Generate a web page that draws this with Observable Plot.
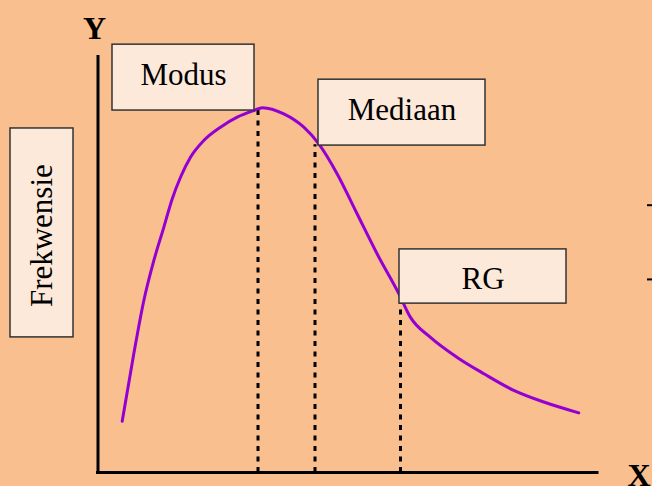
<!DOCTYPE html>
<html>
<head>
<meta charset="utf-8">
<script src="https://cdn.jsdelivr.net/npm/d3@7"></script>
<script src="https://cdn.jsdelivr.net/npm/@observablehq/plot@0.6"></script>
<style>
  html, body { margin: 0; padding: 0; background: #F9BF8F; }
  #chart svg { display: block; }
</style>
</head>
<body>
<div id="chart"></div>
<script>
// Frequency curve (skewed distribution)
const curveX = [4.84, 7.16, 9.16, 11.16, 13.16, 14.84, 16.5, 18.5, 21.16, 24.5, 27.84, 31.16, 32.9, 37.16, 41.16, 44.16, 47.84, 51.84, 55.84, 60.16, 62.5, 66.5, 71.84, 77.16, 83.16, 89.16, 96.16];
const curveY = [12.3, 28.5, 41.2, 50.8, 58.8, 65.6, 70.8, 75.6, 79.6, 82.8, 85.2, 86.8, 87.5, 86.0, 82.8, 78.8, 71.6, 62.0, 52.4, 42.9, 37.2, 32.4, 27.6, 23.7, 19.7, 16.9, 14.3];

// Statistics marked on the curve
const statNames = ["Modus", "Mediaan", "RG"];
const statX = [32.0, 43.4, 60.5];
const statY = [87.3, 78.6, 40.5];

// Label boxes (data units)
const boxX1 = [2.9, 44.1, 60.3, -17.5];
const boxX2 = [31.3, 77.5, 93.7, -4.9];
const boxY1 = [86.8, 78.4, 40.5, 32.4];
const boxY2 = [102.6, 94.2, 53.5, 82.5];
const boxText = ["Modus", "Mediaan", "RG", "Frekwensie"];
const boxTextY = [95.2, 86.8, 46.3, 56.8];
const boxRotate = [0, 0, 0, -90];

// Axis letters
const axisNames = ["Y", "X"];
const axisNameX = [-0.7, 105.9];
const axisNameY = [106.5, -0.7];

// Stray tick marks at the right edge
const edgeTickY = [64.1, 46.3];

const curve = curveX.map((x, i) => ({x, y: curveY[i]}));
const stats = statNames.map((name, i) => ({name, x: statX[i], y: statY[i]}));
const boxes = boxText.map((t, i) => ({
  text: t, x1: boxX1[i], x2: boxX2[i], y1: boxY1[i], y2: boxY2[i],
  cx: (boxX1[i] + boxX2[i]) / 2, cy: boxTextY[i], rotate: boxRotate[i]
}));
const axisLabels = axisNames.map((t, i) => ({t, x: axisNameX[i], y: axisNameY[i]}));

const serif = "'Liberation Serif', serif";

const chart = Plot.plot({
  width: 652,
  height: 486,
  margin: 0,
  x: {domain: [0, 100], range: [97.5, 597.5], axis: null},
  y: {domain: [0, 100], range: [472, 55], axis: null},
  style: {background: "#F9BF8F", overflow: "visible"},
  marks: [
    // dotted verticals
    Plot.ruleX(stats, {x: "x", y1: 0, y2: "y", stroke: "black", strokeWidth: 3, strokeDasharray: "5,5.5"}),
    // axes
    Plot.ruleX([0], {y1: 0, y2: 100, stroke: "black", strokeWidth: 3}),
    Plot.ruleY([0], {x1: -0.3, x2: 100.2, stroke: "black", strokeWidth: 3}),
    // curve
    Plot.line(curve, {x: "x", y: "y", curve: "monotone-x", stroke: "#9400D3", strokeWidth: 3}),
    // boxes
    Plot.rect(boxes, {x1: "x1", x2: "x2", y1: "y1", y2: "y2", fill: "#FDE9DA", stroke: "#333", strokeWidth: 1.5}),
    Plot.text(boxes.filter(d => d.rotate === 0), {x: "cx", y: "cy", text: "text", fontSize: 31, fontFamily: serif, fill: "black", lineAnchor: "middle"}),
    Plot.text(boxes.filter(d => d.rotate !== 0), {x: "cx", y: "cy", text: "text", fontSize: 31, fontFamily: serif, fill: "black", lineAnchor: "middle", rotate: -90}),
    // axis letters
    Plot.text(axisLabels.slice(0, 1), {x: "x", y: "y", text: "t", textAnchor: "middle", fontSize: 32, fontFamily: serif, fontWeight: "bold", fill: "black", lineAnchor: "middle"}),
    Plot.text(axisLabels.slice(1), {x: "x", y: "y", text: "t", textAnchor: "start", fontSize: 32, fontFamily: serif, fontWeight: "bold", fill: "black", lineAnchor: "middle"}),
    // stray ticks on the right edge
    Plot.ruleY(edgeTickY, {x1: 109.9, x2: 111, stroke: "black", strokeWidth: 2})
  ]
});
document.getElementById("chart").append(chart);
</script>
</body>
</html>
